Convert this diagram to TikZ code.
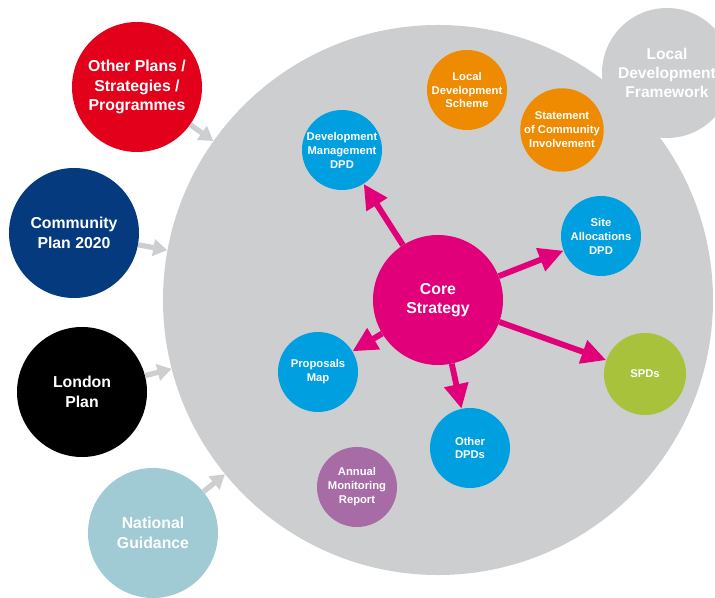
\documentclass[tikz,border=0pt]{standalone}
\usepackage{fontspec}
\setmainfont{Liberation Sans}
\usetikzlibrary{arrows.meta}
\definecolor{ldfgrey}{HTML}{CDCED0}
\definecolor{plansred}{HTML}{E3001B}
\definecolor{plannavy}{HTML}{053A7F}
\definecolor{guideteal}{HTML}{A0CBD4}
\definecolor{coremag}{HTML}{E2007A}
\definecolor{dpdblue}{HTML}{009FE0}
\definecolor{schemeorange}{HTML}{EF8B00}
\definecolor{spdgreen}{HTML}{A8C23B}
\definecolor{amrpurple}{HTML}{A76BA6}
\begin{document}
\begin{tikzpicture}[x=0.03cm,y=-0.03cm,
                every node/.style={circle, inner sep=0pt, text=white, align=center},
                doc/.style={minimum size=2.4cm, font=\fontsize{9.6}{11.9}\selectfont\bfseries},
                source/.style={minimum size=3.9cm, font=\fontsize{13.5}{16.6}\selectfont\bfseries},
                feed/.style={draw=ldfgrey, line width=4.5pt, -{Triangle[length=12pt,width=14pt]}},
                spoke/.style={draw=coremag, line width=5pt, -{Triangle[length=21pt,width=20pt]}}]
                \useasboundingbox (0,0) rectangle (715,598);
                \clip (0,0) rectangle (715,598);
                \node[fill=ldfgrey, minimum size=16.5cm] (ldf) at (438,300) {};
                \node[fill=ldfgrey, minimum size=3.9cm, font=\fontsize{13.3}{16.2}\selectfont\bfseries] (ldftitle) at (667,73) {Local\\Development\\Framework};
                \node[source, fill=plansred] (other) at (137,87) {Other Plans /\\Strategies /\\Programmes};
                \node[source, fill=plannavy] (community) at (74,233) {Community\\Plan 2020};
                \node[source, fill=black] (london) at (82,392) {London\\Plan};
                \node[source, fill=guideteal] (national) at (153,533) {National\\Guidance};
                \node[source, fill=coremag] (core) at (438,300) {Core\\Strategy};
                \node[doc, fill=dpdblue] (dm) at (342,150) {Development\\Management\\DPD};
                \node[doc, fill=schemeorange] (lds) at (467,90) {Local\\Development\\Scheme};
                \node[doc, fill=schemeorange] (sci) at (562,130) {Statement\\of Community\\Involvement};
                \node[doc, fill=dpdblue] (site) at (601,236) {Site\\Allocations\\DPD};
                \node[doc, fill=spdgreen, minimum size=2.46cm] (spd) at (645,374) {SPDs};
                \node[doc, fill=dpdblue] (otherdpd) at (470,448) {Other\\DPDs};
                \node[doc, fill=amrpurple] (amr) at (357,487) {Annual\\Monitoring\\Report};
                \node[doc, fill=dpdblue] (map) at (318,372) {Proposals\\Map};
                \draw[feed] (other) -- (ldf);
                \draw[feed] (community) -- (ldf);
                \draw[feed] (london) -- (ldf);
                \draw[feed] (national) -- (ldf);
                \draw[spoke] (core) -- (dm);
                \draw[spoke] (core) -- (site);
                \draw[spoke] (core) -- (spd);
                \draw[spoke] (core) -- (otherdpd);
                \draw[spoke] (core) -- (map);
            \end{tikzpicture}
\end{document}
